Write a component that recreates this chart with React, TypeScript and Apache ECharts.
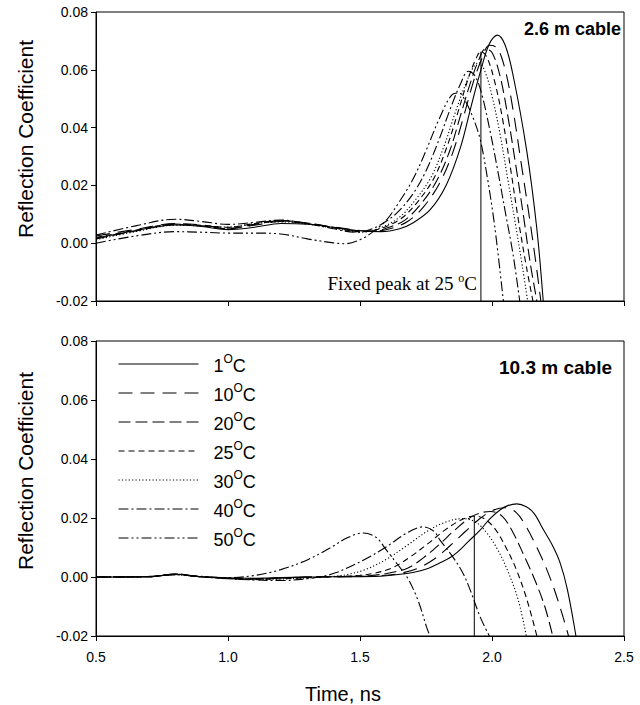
import React, { useEffect, useRef } from "react";
import * as echarts from "echarts";

// ---- Data (time in ns, reflection coefficient) ----
const legendNames = ["1°C", "10°C", "20°C", "25°C", "30°C", "40°C", "50°C"];
const xTickLabels = ["0.5", "1.0", "1.5", "2.0", "2.5"];

// 2.6 m cable (top panel)
const top1 = [[0.5,0.0018],[0.6,0.0035],[0.7,0.0052],[0.8,0.0063],[0.9,0.0058],[1.0,0.0047],[1.1,0.0055],[1.2,0.0068],[1.3,0.0066],[1.4,0.0055],[1.5,0.0043],[1.58,0.004],[1.65,0.005],[1.7,0.007],[1.765,0.0115],[1.826,0.02],[1.88,0.033],[1.92,0.047],[1.955,0.059],[1.99,0.069],[2.02,0.072],[2.05,0.0685],[2.081,0.0576],[2.131,0.0323],[2.169,0.0057],[2.194,-0.02]];
const top10 = [[0.5,0.0025],[0.65,0.0048],[0.8,0.0068],[0.9,0.0063],[1.0,0.0052],[1.1,0.0062],[1.2,0.0075],[1.3,0.0068],[1.4,0.0056],[1.5,0.0044],[1.56,0.0042],[1.62,0.0052],[1.68,0.0075],[1.74,0.0125],[1.8,0.0205],[1.85,0.031],[1.89,0.043],[1.93,0.056],[1.96,0.0635],[1.99,0.0685],[2.02,0.0675],[2.05,0.06],[2.08,0.046],[2.11,0.028],[2.14,0.01],[2.165,-0.006],[2.185,-0.02]];
const top20 = [[0.5,0.0015],[0.65,0.0042],[0.8,0.0065],[0.9,0.006],[1.0,0.005],[1.1,0.0065],[1.2,0.0078],[1.3,0.007],[1.4,0.0055],[1.5,0.0042],[1.55,0.0042],[1.61,0.0055],[1.67,0.008],[1.73,0.0135],[1.79,0.0215],[1.84,0.032],[1.88,0.044],[1.92,0.056],[1.95,0.0635],[1.975,0.0672],[2.0,0.066],[2.03,0.058],[2.06,0.044],[2.09,0.027],[2.12,0.009],[2.145,-0.007],[2.17,-0.02]];
const top25 = [[0.5,0.002],[0.65,0.0045],[0.8,0.0066],[0.9,0.0062],[1.0,0.0055],[1.1,0.0068],[1.2,0.0078],[1.3,0.0068],[1.4,0.0054],[1.5,0.004],[1.54,0.0042],[1.6,0.0058],[1.66,0.0088],[1.72,0.0145],[1.78,0.0225],[1.83,0.0335],[1.87,0.045],[1.91,0.057],[1.94,0.064],[1.958,0.0663],[1.98,0.0645],[2.01,0.056],[2.04,0.043],[2.07,0.026],[2.1,0.008],[2.13,-0.008],[2.155,-0.02]];
const top30 = [[0.5,0.0012],[0.65,0.004],[0.8,0.0062],[0.9,0.006],[1.0,0.0056],[1.1,0.0068],[1.2,0.0074],[1.3,0.0066],[1.4,0.0052],[1.5,0.0038],[1.53,0.004],[1.59,0.0058],[1.65,0.009],[1.71,0.015],[1.77,0.023],[1.82,0.034],[1.86,0.045],[1.9,0.055],[1.93,0.061],[1.95,0.0625],[1.975,0.059],[2.0,0.051],[2.03,0.038],[2.06,0.022],[2.09,0.006],[2.115,-0.008],[2.135,-0.02]];
const top40 = [[0.5,0.0028],[0.65,0.006],[0.8,0.0083],[0.9,0.0075],[1.0,0.0065],[1.1,0.0072],[1.2,0.008],[1.3,0.0068],[1.4,0.005],[1.48,0.0038],[1.53,0.0045],[1.58,0.0065],[1.64,0.0105],[1.7,0.017],[1.75,0.025],[1.8,0.036],[1.84,0.046],[1.88,0.055],[1.91,0.0595],[1.935,0.058],[1.96,0.052],[1.99,0.04],[2.02,0.026],[2.05,0.011],[2.08,-0.004],[2.105,-0.02]];
const top50 = [[0.5,0.0],[0.65,0.0025],[0.8,0.004],[0.9,0.0038],[1.0,0.0035],[1.1,0.0035],[1.2,0.0032],[1.3,0.0015],[1.4,0.0001],[1.44,-0.0002],[1.5,0.0012],[1.55,0.004],[1.6,0.008],[1.65,0.0145],[1.7,0.022],[1.75,0.032],[1.8,0.043],[1.85,0.0515],[1.875,0.052],[1.9,0.049],[1.93,0.043],[1.955,0.036],[1.98,0.024],[2.01,0.006],[2.043,-0.02]];

// 10.3 m cable (bottom panel)
const bot1 = [[0.5,0],[0.7,0.0001],[0.78,0.0008],[0.82,0.0009],[0.88,0.0002],[1.0,-0.0003],[1.1,-0.0004],[1.2,-0.0002],[1.3,0],[1.4,0.0001],[1.5,0.0001],[1.6,0.0004],[1.7,0.0015],[1.76,0.003],[1.8,0.0047],[1.84,0.0065],[1.87,0.0085],[1.91,0.012],[1.955,0.0159],[1.99,0.0195],[2.03,0.0227],[2.06,0.0242],[2.094,0.0248],[2.13,0.0238],[2.16,0.0215],[2.195,0.016],[2.23,0.0105],[2.258,0.0048],[2.285,-0.004],[2.318,-0.02]];
const bot10 = [[0.5,0],[0.7,0.0001],[0.8,0.0009],[0.88,0.0002],[1.0,-0.0004],[1.1,-0.0006],[1.2,-0.0003],[1.3,0],[1.45,0.0001],[1.58,0.0005],[1.65,0.0012],[1.72,0.003],[1.78,0.006],[1.84,0.0105],[1.9,0.0155],[1.95,0.0195],[2.0,0.0225],[2.045,0.0235],[2.09,0.022],[2.13,0.017],[2.17,0.01],[2.21,0.002],[2.25,-0.008],[2.29,-0.02]];
const bot20 = [[0.5,0],[0.7,0.0001],[0.8,0.001],[0.88,0.0002],[1.0,-0.0005],[1.1,-0.0007],[1.2,-0.0004],[1.3,0],[1.45,0.0002],[1.54,0.0005],[1.6,0.0012],[1.68,0.003],[1.74,0.0065],[1.8,0.011],[1.86,0.016],[1.92,0.0203],[1.96,0.0218],[1.995,0.0222],[2.04,0.0205],[2.08,0.015],[2.12,0.0075],[2.16,-0.0005],[2.2,-0.01],[2.23,-0.02]];
const bot25 = [[0.5,0],[0.7,0.0001],[0.8,0.0009],[0.88,0.0002],[1.0,-0.0004],[1.1,-0.0008],[1.2,-0.0006],[1.3,-0.0002],[1.42,0.0002],[1.5,0.0006],[1.55,0.0012],[1.62,0.003],[1.69,0.0068],[1.76,0.0115],[1.82,0.0158],[1.88,0.0192],[1.933,0.0207],[1.97,0.0198],[2.01,0.0165],[2.05,0.0105],[2.09,0.003],[2.13,-0.007],[2.17,-0.02]];
const bot30 = [[0.5,0],[0.7,0.0001],[0.8,0.0008],[0.88,0.0002],[1.0,-0.0005],[1.1,-0.0009],[1.2,-0.0007],[1.3,-0.0003],[1.4,0.0002],[1.45,0.0008],[1.52,0.0025],[1.6,0.006],[1.68,0.0108],[1.76,0.0158],[1.83,0.0188],[1.89,0.0198],[1.94,0.0185],[1.98,0.015],[2.02,0.0095],[2.06,0.002],[2.1,-0.008],[2.13,-0.02]];
const bot40 = [[0.5,0],[0.7,0.0001],[0.8,0.001],[0.88,0.0002],[1.0,-0.0006],[1.1,-0.001],[1.2,-0.0012],[1.3,-0.0006],[1.36,0.0002],[1.41,0.0015],[1.462,0.0035],[1.53,0.0065],[1.601,0.0103],[1.677,0.0149],[1.74,0.017],[1.78,0.0155],[1.803,0.0125],[1.85,0.007],[1.89,0.0013],[1.92,-0.005],[1.955,-0.0135],[1.99,-0.02]];
const bot50 = [[0.5,0],[0.7,0.0002],[0.8,0.0008],[0.9,0.0002],[1.0,-0.0002],[1.1,0.0005],[1.2,0.0025],[1.3,0.0058],[1.386,0.0098],[1.45,0.0132],[1.511,0.0149],[1.56,0.0135],[1.601,0.009],[1.64,0.0045],[1.68,-0.0003],[1.72,-0.008],[1.752,-0.0169],[1.765,-0.02]];

// Fixed peak markers at 25 °C (vertical lines from peak down to the axis)
const fixedPeakTop = [[1.958, 0.0663], [1.958, -0.02]];
const fixedPeakBottom = [[1.933, 0.0207], [1.933, -0.02]];

const topSeriesData = [top1, top10, top20, top25, top30, top40, top50];
const bottomSeriesData = [bot1, bot10, bot20, bot25, bot30, bot40, bot50];

// ---- Styles ----
const dashTypes: any[] = ["solid", [14, 8], [12, 5], [6, 4], [1.2, 2.2], [10, 3, 2, 3], [10, 3, 2, 3, 2, 3]];
const SANS = '"Liberation Sans", Arial, sans-serif';
const SERIF = '"Liberation Serif", "Times New Roman", serif';

function fmtY(v: number) {
  if (Math.abs(v) < 1e-9) return "0.00";
  return v.toFixed(2);
}

function makeOption() {
  const gridCommon = { left: 96, width: 528, show: true, borderColor: "#000", borderWidth: 1, backgroundColor: "transparent" };
  const axisCommonX = {
    type: "value",
    min: 0.5,
    max: 2.5,
    interval: 0.5,
    axisLine: { show: true, onZero: false, lineStyle: { color: "#000", width: 1 } },
    axisTick: { show: true, inside: false, length: 5, lineStyle: { color: "#000" } },
    splitLine: { show: false },
  };
  const axisCommonY = {
    type: "value",
    min: -0.02,
    max: 0.08,
    interval: 0.02,
    axisLine: { show: true, onZero: false, lineStyle: { color: "#000", width: 1 } },
    axisTick: { show: true, inside: false, length: 5, lineStyle: { color: "#000" } },
    splitLine: { show: false },
    axisLabel: { formatter: fmtY, fontSize: 14, fontFamily: SANS, color: "#000", margin: 8 },
  };

  const series: any[] = [];
  legendNames.forEach((name, i) => {
    series.push({
      type: "line",
      name,
      xAxisIndex: 0,
      yAxisIndex: 0,
      data: topSeriesData[i],
      symbol: "none",
      smooth: 0.35,
      itemStyle: { color: "#000" },
      lineStyle: { color: "#000", width: 1.1, type: dashTypes[i] },
      z: 3,
    });
    series.push({
      type: "line",
      name,
      xAxisIndex: 1,
      yAxisIndex: 1,
      data: bottomSeriesData[i],
      symbol: "none",
      smooth: 0.35,
      itemStyle: { color: "#000" },
      lineStyle: { color: "#000", width: 1.1, type: dashTypes[i] },
      z: 3,
    });
  });
  series.push({
    type: "line",
    name: "fixed-peak-top",
    xAxisIndex: 0,
    yAxisIndex: 0,
    data: fixedPeakTop,
    symbol: "none",
    itemStyle: { color: "#000" },
    lineStyle: { color: "#000", width: 1 },
  });
  series.push({
    type: "line",
    name: "fixed-peak-bottom",
    xAxisIndex: 1,
    yAxisIndex: 1,
    data: fixedPeakBottom,
    symbol: "none",
    itemStyle: { color: "#000" },
    lineStyle: { color: "#000", width: 1 },
  });

  return {
    animation: false,
    backgroundColor: "#fff",
    grid: [
      { ...gridCommon, top: 12, height: 289 },
      { ...gridCommon, top: 341, height: 295 },
    ],
    xAxis: [
      { ...axisCommonX, gridIndex: 0, axisLabel: { show: false } },
      {
        ...axisCommonX,
        gridIndex: 1,
        axisLabel: {
          fontSize: 14,
          fontFamily: SANS,
          color: "#000",
          margin: 14,
          formatter: (v: number) => xTickLabels[Math.round((v - 0.5) / 0.5)] ?? v.toFixed(1),
        },
      },
    ],
    yAxis: [
      { ...axisCommonY, gridIndex: 0 },
      { ...axisCommonY, gridIndex: 1 },
    ],
    legend: {
      data: legendNames,
      orient: "vertical",
      left: 113,
      top: 348,
      itemWidth: 80,
      itemHeight: 14,
      itemGap: 7,
      selectedMode: false,
      itemStyle: { opacity: 0 },
      lineStyle: { width: 1 },
      formatter: (name: string) => {
        const num = name.replace("°C", "");
        return `{n|${num}}{s|O}{n|C}`;
      },
      textStyle: {
        padding: [0, 0, 0, 10],
        rich: {
          n: { fontSize: 18, fontFamily: SANS, color: "#000", lineHeight: 22, verticalAlign: "bottom" },
          s: { fontSize: 12, fontFamily: SANS, color: "#000", verticalAlign: "top", lineHeight: 12 },
        },
      },
    },
    graphic: [
      {
        type: "text",
        x: 621,
        y: 29,
        style: { text: "2.6 m cable", font: `bold 18px ${SANS}`, fill: "#000", textAlign: "right", textVerticalAlign: "middle" },
      },
      {
        type: "text",
        x: 612,
        y: 367,
        style: { text: "10.3 m cable", font: `bold 19px ${SANS}`, fill: "#000", textAlign: "right", textVerticalAlign: "middle" },
      },
      {
        type: "text",
        x: 477,
        y: 283,
        style: {
          text: "{a|Fixed peak at 25 }{s|o}{a|C}",
          textAlign: "right",
          textVerticalAlign: "middle",
          rich: {
            a: { font: `19px ${SERIF}`, fill: "#000", lineHeight: 22 },
            s: { font: `12px ${SERIF}`, fill: "#000", verticalAlign: "top", lineHeight: 14 },
          },
        },
      },
      {
        type: "text",
        x: 25,
        y: 139,
        rotation: Math.PI / 2,
        style: { text: "Reflection Coefficient", font: `21px ${SANS}`, fill: "#000", textAlign: "center", textVerticalAlign: "middle" },
      },
      {
        type: "text",
        x: 25,
        y: 471,
        rotation: Math.PI / 2,
        style: { text: "Reflection Coefficient", font: `21px ${SANS}`, fill: "#000", textAlign: "center", textVerticalAlign: "middle" },
      },
      {
        type: "text",
        x: 343,
        y: 694,
        style: { text: "Time, ns", font: `20px ${SANS}`, fill: "#000", textAlign: "center", textVerticalAlign: "middle" },
      },
    ],
    series,
  };
}

export default function App() {
  const ref = useRef<HTMLDivElement>(null);
  useEffect(() => {
    if (!ref.current) return;
    const chart = echarts.init(ref.current, undefined, { renderer: "svg" });
    chart.setOption(makeOption() as any);
    return () => chart.dispose();
  }, []);
  return <div ref={ref} style={{ position: "absolute", left: 0, top: 0, width: 640, height: 705 }} />;
}
